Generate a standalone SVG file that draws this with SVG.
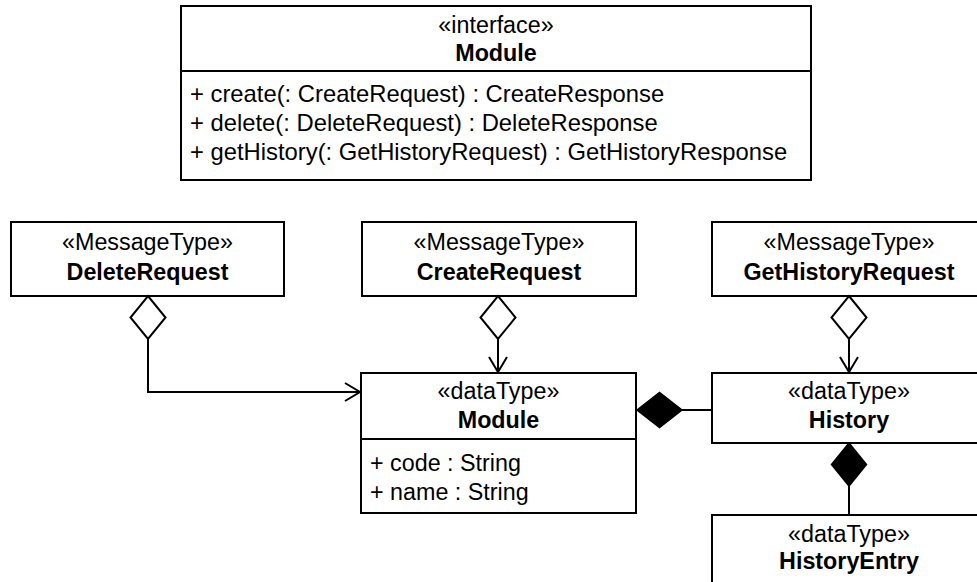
<svg xmlns="http://www.w3.org/2000/svg" width="977" height="582" viewBox="0 0 977 582">
<style>
  .box { fill: #ffffff; stroke: #000000; stroke-width: 2; }
  .sep { stroke: #000000; stroke-width: 2; }
  .t { font-family: "Liberation Sans", Arial, Helvetica, sans-serif; font-size: 23.3px; fill: #000000; }
  .m { font-size: 23.8px; }
  .c { text-anchor: middle; }
  .b { font-weight: bold; }
  .line { fill: none; stroke: #000000; stroke-width: 2; }
  .odia { fill: #ffffff; stroke: #000000; stroke-width: 2; }
  .fdia { fill: #000000; stroke: #000000; stroke-width: 1.5; }
  .arrow { fill: none; stroke: #000000; stroke-width: 2; }
</style>
<rect x="0" y="0" width="977" height="582" fill="#ffffff"/>

<g id="interface-module">
  <rect class="box" x="181" y="6" width="630" height="174"/>
  <line class="sep" x1="181" y1="71" x2="811" y2="71"/>
  <text class="t c" x="496" y="33">«interface»</text>
  <text class="t c b" x="496" y="61">Module</text>
  <text class="t m" x="190" y="102">+ create(: CreateRequest) : CreateResponse</text>
  <text class="t m" x="190" y="131">+ delete(: DeleteRequest) : DeleteResponse</text>
  <text class="t m" x="190" y="160">+ getHistory(: GetHistoryRequest) : GetHistoryResponse</text>
</g>

<g id="delete-request">
  <rect class="box" x="11" y="222" width="273" height="74"/>
  <text class="t c" x="147.5" y="250">«MessageType»</text>
  <text class="t c b" x="147.5" y="280">DeleteRequest</text>
</g>

<g id="create-request">
  <rect class="box" x="362" y="222" width="274" height="74"/>
  <text class="t c" x="499" y="250">«MessageType»</text>
  <text class="t c b" x="499" y="280">CreateRequest</text>
</g>

<g id="get-history-request">
  <rect class="box" x="712" y="222" width="274" height="74"/>
  <text class="t c" x="849" y="250">«MessageType»</text>
  <text class="t c b" x="849" y="280">GetHistoryRequest</text>
</g>

<g id="datatype-module">
  <rect class="box" x="361" y="373" width="275" height="140"/>
  <line class="sep" x1="361" y1="439" x2="636" y2="439"/>
  <text class="t c" x="498.5" y="399">«dataType»</text>
  <text class="t c b" x="498.5" y="428">Module</text>
  <text class="t" x="370" y="471">+ code : String</text>
  <text class="t" x="370" y="500">+ name : String</text>
</g>

<g id="history">
  <rect class="box" x="712" y="373" width="274" height="70"/>
  <text class="t c" x="849" y="399">«dataType»</text>
  <text class="t c b" x="849" y="428">History</text>
</g>

<g id="history-entry">
  <rect class="box" x="712" y="515" width="274" height="74"/>
  <text class="t c" x="849" y="542">«dataType»</text>
  <text class="t c b" x="849" y="569">HistoryEntry</text>
</g>

<g id="connectors">
  <!-- DeleteRequest aggregation to Module -->
  <polyline class="line" points="148,339 148,392 360,392"/>
  <polygon class="odia" points="148,296 165.5,317.5 148,339 130.5,317.5"/>
  <polyline class="arrow" points="345,383 360,392 345,401"/>

  <!-- CreateRequest aggregation to Module -->
  <line class="line" x1="498" y1="339" x2="498" y2="372"/>
  <polygon class="odia" points="498,296 515.5,317.5 498,339 480.5,317.5"/>
  <polyline class="arrow" points="489,357 498,372 507,357"/>

  <!-- GetHistoryRequest aggregation to History -->
  <line class="line" x1="849" y1="339" x2="849" y2="372"/>
  <polygon class="odia" points="849,296 866.5,317.5 849,339 831.5,317.5"/>
  <polyline class="arrow" points="840,357 849,372 858,357"/>

  <!-- Module composed of History -->
  <line class="line" x1="682" y1="410" x2="712" y2="410"/>
  <polygon class="fdia" points="637,410 659.5,392.5 682,410 659.5,427.5"/>

  <!-- History composed of HistoryEntry -->
  <line class="line" x1="849" y1="486" x2="849" y2="515"/>
  <polygon class="fdia" points="849,443 866.5,464.5 849,486 831.5,464.5"/>
</g>
</svg>
